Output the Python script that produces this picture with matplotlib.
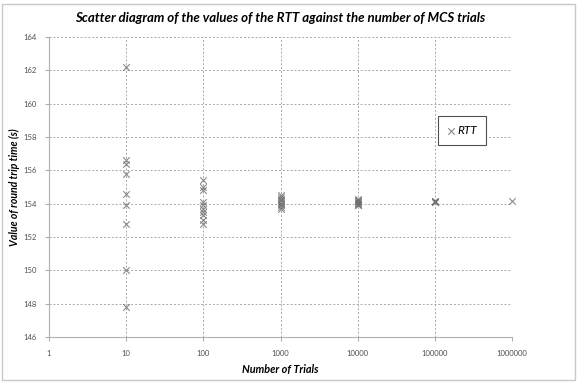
import matplotlib.pyplot as plt
from matplotlib.patches import Rectangle

# RTT readings (s) for each number of MCS trials
trials_10 = [162.2, 156.6, 156.4, 155.8, 154.6, 153.9, 152.8, 150.0, 147.8]
trials_100 = [155.4, 155.0, 154.8, 154.1, 153.9, 153.7, 153.5, 153.3, 153.0, 152.8]
trials_1000 = [154.5, 154.4, 154.3, 154.2, 154.1, 154.0, 153.9, 153.8, 153.7]
trials_10000 = [154.3, 154.2, 154.15, 154.1, 154.05, 154.0, 153.95, 153.9]
trials_100000 = [154.18, 154.15, 154.12, 154.1]
trials_1000000 = [154.15]

n_trials = [10, 100, 1000, 10000, 100000, 1000000]
rtt_sets = [trials_10, trials_100, trials_1000, trials_10000, trials_100000, trials_1000000]

xs, ys = [], []
for n, vals in zip(n_trials, rtt_sets):
    xs += [n] * len(vals)
    ys += vals

plt.rcParams['font.family'] = ['Lato', 'DejaVu Sans']

fig = plt.figure(figsize=(5.84, 3.85), dpi=100)
ax = fig.add_axes([49 / 584, 1 - 337 / 385, 463 / 584, 300 / 385])

# chart area border
fig.patches.append(Rectangle((2 / 584, 1 - 380 / 385), 573 / 584, 376 / 385,
                             transform=fig.transFigure, fill=False,
                             edgecolor='#c8c8c8', linewidth=1.0))

ax.scatter(xs, ys, marker='x', s=22, color='#6e6e6e', linewidths=0.8,
           alpha=0.8, label='RTT', zorder=3, clip_on=False)

ax.set_xscale('log')
ax.set_xlim(1, 1000000)
ax.set_ylim(146, 164)
ax.set_yticks(range(146, 165, 2))
ax.set_xticks([1, 10, 100, 1000, 10000, 100000, 1000000])
ax.set_xticklabels(['1', '10', '100', '1000', '10000', '100000', '1000000'])
ax.minorticks_off()

ax.grid(True, linestyle=(0, (2, 2)), color='#a8a8a8', linewidth=0.7)
for s in ['top', 'right']:
    ax.spines[s].set_visible(False)
for s in ['left', 'bottom']:
    ax.spines[s].set_color('#b0b0b0')
ax.tick_params(labelsize=5.5, colors='#505050', length=3, color='#b0b0b0', pad=6)

ax.set_title('Scatter diagram of the values of the RTT against the number of MCS trials',
             fontsize=9.5, fontweight='bold', style='italic', pad=11)
ax.set_xlabel('Number of Trials', fontsize=7.8, fontweight='bold', style='italic')
ax.set_ylabel('Value of round trip time (s)', fontsize=7.6, fontweight='bold', style='italic')
ax.xaxis.set_label_coords(0.5, -0.09)
ax.yaxis.set_label_coords(-0.063, 0.5)

leg = ax.legend(loc='upper left', bbox_to_anchor=(389 / 463, 1 - 79 / 300),
                borderaxespad=0, fancybox=False, edgecolor='#505050', handlelength=0.7,
                handletextpad=0.2, borderpad=0.75, framealpha=1,
                prop={'style': 'italic', 'size': 8.5})
leg.get_frame().set_linewidth(0.8)

fig.savefig('out.png', dpi=100, facecolor='white')
